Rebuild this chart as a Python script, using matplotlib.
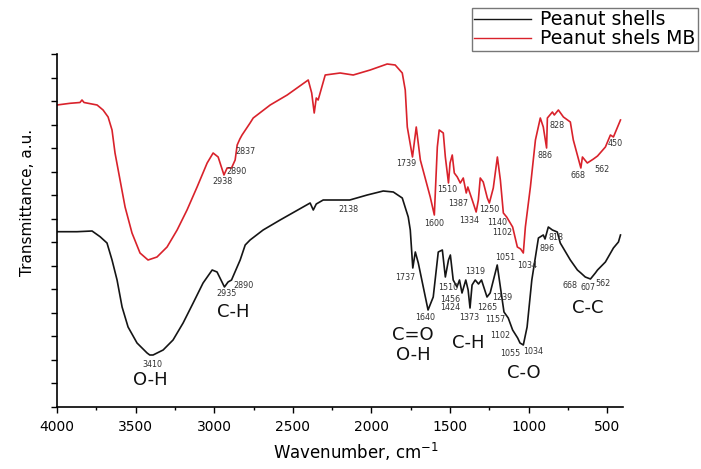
import matplotlib
matplotlib.use("Agg")
import matplotlib.pyplot as plt
import numpy as np

plt.rcParams['font.family'] = ['DejaVu Sans']

# ---- data (wavenumber cm^-1, transmittance a.u.) ----
red_wn = [4000, 3917, 3854, 3841, 3828, 3745, 3707, 3675, 3650, 3631, 3599, 3567, 3523, 3472,
          3421, 3364, 3300, 3236, 3173, 3109, 3045, 3007, 2975, 2938, 2918, 2890, 2867, 2854,
          2837, 2823, 2772, 2752, 2644, 2536, 2402, 2380, 2364, 2351, 2339, 2294, 2199, 2116,
          2008, 1900, 1849, 1804, 1785, 1772, 1739, 1715, 1689, 1626, 1600, 1581, 1569, 1543,
          1530, 1510, 1500, 1486, 1473, 1454, 1435, 1416, 1397, 1387, 1359, 1334, 1320, 1308,
          1289, 1263, 1250, 1225, 1199, 1180, 1161, 1140, 1102, 1072, 1051, 1034, 1021, 989,
          957, 926, 907, 886, 881, 849, 837, 811, 779, 735, 716, 668, 658, 627, 588, 562, 512,
          480, 461, 416]
red_t = [302, 303.7, 304.5, 307, 304.5, 302, 297, 290, 277, 254, 227, 200, 174, 154,
         147, 150, 160, 177, 197, 220, 244, 254, 250, 232, 239, 239, 247, 262,
         268, 272, 284, 289, 302, 312, 327, 314, 294, 309, 307, 332, 334, 332,
         337, 343, 342, 334, 317, 280, 250, 280, 247, 210, 192, 260, 277, 274,
         250, 224, 244, 252, 234, 230, 224, 229, 214, 220, 207, 195, 207, 229,
         225, 209, 204, 219, 250, 227, 194, 190, 180, 160, 158, 154, 180, 220,
         267, 289, 280, 259, 289, 295, 292, 297, 290, 285, 267, 239, 250, 244, 248, 251, 260,
         272, 270, 287]

blk_wn = [4000, 3873, 3777, 3726, 3682, 3650, 3618, 3586, 3548, 3491, 3427, 3410, 3389, 3325,
          3262, 3198, 3134, 3071, 3013, 2982, 2935, 2912, 2890, 2835, 2803, 2772, 2689, 2581,
          2390, 2370, 2351, 2307, 2138, 2027, 1925, 1861, 1804, 1766, 1753, 1737, 1721, 1702,
          1640, 1607, 1575, 1549, 1530, 1510, 1498, 1480, 1456, 1440, 1424, 1400, 1385, 1373,
          1360, 1340, 1319, 1300, 1265, 1245, 1200, 1180, 1157, 1130, 1102, 1070, 1055, 1034,
          1010, 980, 938, 907, 896, 875, 849, 818, 799, 735, 690, 668, 640, 607, 576, 562, 512,
          461, 429, 416]
blk_t = [175.3, 175.3, 176, 170.3, 164, 147, 127, 100, 80, 64, 54, 52, 52, 57,
         67, 84, 104, 124, 137, 135, 120, 125, 127, 147, 162, 167, 177, 187,
         204, 197, 203, 207, 207, 212, 216, 215, 209, 190, 177, 139, 155, 144,
         97, 110, 155, 157, 130, 147, 152, 127, 120, 127, 114, 127, 117, 99,
         122, 127, 123, 127, 110, 114, 142, 120, 95, 89, 77, 69, 64, 62,
         80, 127, 169, 172, 168, 180, 177, 175, 164, 147, 137, 134, 130, 128, 134, 137, 145,
         159, 165, 172]

red_labels = ["2938", "2890", "2837", "1739", "1600", "1510", "1387", "1334", "1250", "1140",
              "1102", "1051", "1034", "886", "828", "668", "562", "450"]
red_label_wn = [2950, 2861, 2803, 1779, 1600, 1518, 1448, 1378, 1250, 1199, 1168, 1148, 1008,
                894, 817, 684, 531, 448]
red_label_t = [226, 235, 255, 243, 184, 217, 204, 187, 197, 185, 175, 149, 142, 252, 282,
               232, 238, 264]

blk_labels = ["3410", "2935", "2890", "2138", "1737", "1640", "1510", "1456", "1424", "1319",
              "1373", "1265", "1239", "1157", "1102", "1055", "1034", "896", "818", "668",
              "607", "562"]
blk_label_wn = [3395, 2924, 2816, 2148, 1785, 1658, 1511, 1499, 1499, 1339, 1378, 1263, 1168,
                1212, 1180, 1117, 970, 881, 824, 735, 620, 525]
blk_label_t = [43, 113, 121, 198, 129, 89, 119, 108, 99, 136, 90, 100, 109, 87, 72, 54, 55,
               159, 170, 122, 119, 124]

group_labels = ["O-H", "C-H", "C=O", "O-H", "C-H", "C-O", "C-C"]
group_wn = [3408, 2880, 1734, 1734, 1384, 1034, 627]
group_t = [27, 95, 72, 52, 64, 34, 99]

xticks = [4000, 3500, 3000, 2500, 2000, 1500, 1000, 500]

# ---- figure ----
fig = plt.figure(figsize=(7.01, 4.69), dpi=100)
ax = fig.add_axes([57/701, 62/469, 566/701, 353/469])

red = '#d9222b'
ax.plot(blk_wn, blk_t, color='#151515', lw=1.2, label='Peanut shells')
ax.plot(red_wn, red_t, color=red, lw=1.2, label='Peanut shels MB')

for s, w, t in zip(red_labels, red_label_wn, red_label_t):
    ax.text(w, t, s, fontsize=5.8, color='#333333', ha='center', va='center')
for s, w, t in zip(blk_labels, blk_label_wn, blk_label_t):
    ax.text(w, t, s, fontsize=5.8, color='#333333', ha='center', va='center')
for s, w, t in zip(group_labels, group_wn, group_t):
    ax.text(w, t, s, fontsize=13, color='#111111', ha='center', va='center')

ax.set_xlim(4000, 400)
ax.set_ylim(0, 353)
ax.set_xticks(xticks)
ax.set_xticks([3750, 3250, 2750, 2250, 1750, 1250, 750], minor=True)
ax.set_yticks(np.linspace(0, 353, 16))
ax.set_yticklabels([])
ax.tick_params(axis='x', which='major', direction='out', length=4, width=1, labelsize=10, pad=5)
ax.tick_params(axis='x', which='minor', direction='out', length=2.5, width=1)
ax.tick_params(axis='y', which='major', direction='out', length=4, width=1)
for sp in ['top', 'right']:
    ax.spines[sp].set_visible(False)
for sp in ['left', 'bottom']:
    ax.spines[sp].set_linewidth(1.2)

ax.set_xlabel('Wavenumber, cm$^{-1}$', fontsize=12)
ax.xaxis.set_label_coords(0.528, -0.095)
ax.set_ylabel('Transmittance, a.u.', fontsize=11)
ax.yaxis.set_label_coords(-0.038, 0.58)

leg = fig.legend(loc='upper right', bbox_to_anchor=(698/701, 1 - 8/469), frameon=True,
                 fancybox=False, fontsize=13.6, labelspacing=0.0, borderpad=0.12,
                 handlelength=3.0, handletextpad=0.5, borderaxespad=0)
leg.get_frame().set_edgecolor('#555555')
leg.get_frame().set_linewidth(1.0)
for line in leg.get_lines():
    line.set_linewidth(1.0)

fig.savefig('out.png', dpi=100)
